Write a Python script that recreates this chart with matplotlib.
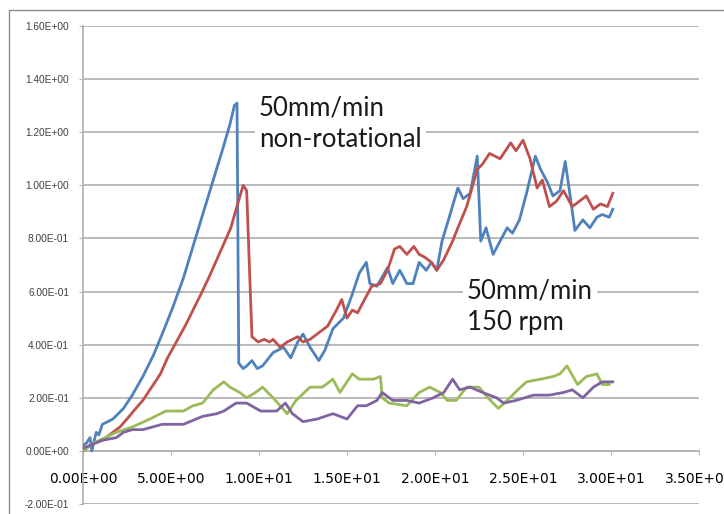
import matplotlib.pyplot as plt
from matplotlib.patches import Rectangle

# series (x, load)
blue_x = [0.0, 0.2, 0.4, 0.5, 0.75, 0.9, 1.1, 1.7, 2.3, 2.8, 3.4, 4.0, 4.5, 5.1, 5.7, 6.25, 6.8, 7.4, 8.0,
          8.35, 8.6, 8.75, 8.85, 9.1, 9.3, 9.6, 9.9, 10.2, 10.8, 11.4, 11.8, 12.2, 12.5, 12.9, 13.4, 13.75,
          14.2, 14.8, 15.3, 15.7, 16.1, 16.3, 16.7, 17.3, 17.6, 18.0, 18.4, 18.75, 19.1, 19.5, 19.8, 20.1,
          20.4, 20.9, 21.3, 21.6, 22.0, 22.4, 22.6, 22.9, 23.3, 23.7, 24.1, 24.4, 24.8, 25.2, 25.7, 26.0,
          26.4, 26.7, 27.1, 27.4, 27.7, 27.95, 28.4, 28.8, 29.2, 29.5, 29.9, 30.1]
blue_y = [0.02, 0.03, 0.05, 0.0, 0.07, 0.06, 0.10, 0.12, 0.16, 0.21, 0.28, 0.36, 0.44, 0.54, 0.65, 0.77, 0.89,
          1.02, 1.15, 1.23, 1.30, 1.31, 0.33, 0.31, 0.32, 0.34, 0.31, 0.32, 0.37, 0.39, 0.35, 0.41, 0.44, 0.39,
          0.34, 0.38, 0.46, 0.50, 0.59, 0.67, 0.71, 0.63, 0.62, 0.69, 0.63, 0.68, 0.63, 0.63, 0.71, 0.68, 0.71,
          0.68, 0.79, 0.90, 0.99, 0.95, 0.97, 1.11, 0.79, 0.84, 0.74, 0.79, 0.84, 0.82, 0.87, 0.97, 1.11, 1.06,
          1.01, 0.96, 0.98, 1.09, 0.95, 0.83, 0.87, 0.84, 0.88, 0.89, 0.88, 0.91]

red_x = [0.0, 0.6, 1.1, 1.7, 2.1, 2.5, 3.0, 3.4, 3.9, 4.4, 4.8, 5.3, 5.8, 6.25, 6.7, 7.2, 7.6, 8.0, 8.4, 8.7,
         9.1, 9.3, 9.5, 9.6, 9.95, 10.3, 10.6, 10.8, 11.2, 11.6, 12.2, 12.5, 12.9, 13.3, 13.9, 14.4, 14.7,
         15.0, 15.3, 15.6, 16.0, 16.4, 16.9, 17.3, 17.7, 18.0, 18.4, 18.8, 19.1, 19.4, 19.8, 20.1, 20.5, 21.0,
         21.3, 21.8, 22.4, 22.7, 23.1, 23.7, 24.3, 24.6, 25.0, 25.4, 25.8, 26.1, 26.5, 26.9, 27.3, 27.8, 28.6,
         29.0, 29.4, 29.8, 30.1]
red_y = [0.0, 0.03, 0.04, 0.07, 0.09, 0.12, 0.16, 0.19, 0.24, 0.29, 0.35, 0.41, 0.47, 0.53, 0.59, 0.66, 0.72,
         0.78, 0.84, 0.91, 1.00, 0.98, 0.61, 0.43, 0.41, 0.42, 0.41, 0.42, 0.39, 0.41, 0.43, 0.41, 0.42, 0.44,
         0.47, 0.53, 0.57, 0.50, 0.53, 0.52, 0.57, 0.62, 0.63, 0.68, 0.76, 0.77, 0.74, 0.77, 0.74, 0.73, 0.71,
         0.68, 0.72, 0.79, 0.84, 0.92, 1.06, 1.08, 1.12, 1.10, 1.16, 1.13, 1.17, 1.10, 0.99, 1.02, 0.92, 0.94,
         0.98, 0.92, 0.96, 0.91, 0.93, 0.92, 0.97]

green_x = [0.0, 0.6, 1.9, 2.8, 3.8, 4.7, 5.7, 6.25, 6.8, 7.4, 8.0, 8.35, 8.9, 9.3, 9.8, 10.2, 10.8, 11.6, 12.1,
           12.9, 13.6, 14.2, 14.6, 15.3, 15.7, 16.5, 16.9, 17.0, 17.4, 18.4, 19.1, 19.7, 20.3, 20.7, 21.2, 21.8,
           22.5, 23.0, 23.6, 24.1, 24.7, 25.2, 26.0, 26.7, 27.1, 27.5, 28.1, 28.6, 29.2, 29.5, 29.9]
green_y = [0.0, 0.03, 0.07, 0.09, 0.12, 0.15, 0.15, 0.17, 0.18, 0.23, 0.26, 0.24, 0.22, 0.20, 0.22, 0.24, 0.20,
           0.14, 0.19, 0.24, 0.24, 0.27, 0.22, 0.29, 0.27, 0.27, 0.28, 0.20, 0.18, 0.17, 0.22, 0.24, 0.22, 0.19,
           0.19, 0.24, 0.24, 0.20, 0.16, 0.19, 0.23, 0.26, 0.27, 0.28, 0.29, 0.32, 0.25, 0.28, 0.29, 0.25, 0.25]

purple_x = [0.0, 1.1, 1.9, 2.3, 2.8, 3.4, 4.5, 5.7, 6.8, 7.6, 8.0, 8.7, 9.3, 10.1, 11.0, 11.5, 11.9, 12.5,
            13.3, 14.2, 15.0, 15.6, 16.1, 16.7, 17.0, 17.6, 18.4, 19.1, 19.9, 20.5, 21.0, 21.4, 22.0, 22.7,
            23.5, 23.9, 24.6, 25.6, 26.5, 27.3, 27.8, 28.4, 29.0, 29.5, 30.1]
purple_y = [0.01, 0.04, 0.05, 0.07, 0.08, 0.08, 0.10, 0.10, 0.13, 0.14, 0.15, 0.18, 0.18, 0.15, 0.15, 0.18,
            0.14, 0.11, 0.12, 0.14, 0.12, 0.17, 0.17, 0.19, 0.22, 0.19, 0.19, 0.18, 0.20, 0.22, 0.27, 0.23,
            0.24, 0.22, 0.20, 0.18, 0.19, 0.21, 0.21, 0.22, 0.23, 0.20, 0.24, 0.26, 0.26]

x_ticks = [0, 5, 10, 15, 20, 25, 30, 35]
y_ticks = [-0.2, 0.0, 0.2, 0.4, 0.6, 0.8, 1.0, 1.2, 1.4, 1.6]

tick_font = {"family": ["Liberation Sans Narrow", "Liberation Sans", "DejaVu Sans"], "size": 7.3}
note_font = ["Lato", "DejaVu Sans"]
grid_col = "#b4b4b4"

fig = plt.figure(figsize=(7.24, 5.14), dpi=100)
ax = fig.add_axes([83 / 724, 1 - 504 / 514, 616 / 724, 478 / 514])

ax.plot(blue_x, blue_y, color="#4F81BD", lw=2.0, zorder=3)
ax.plot(red_x, red_y, color="#C0504D", lw=2.0, zorder=3)
ax.plot(green_x, green_y, color="#9BBB59", lw=2.0, zorder=3)
ax.plot(purple_x, purple_y, color="#8064A2", lw=2.0, zorder=3)

ax.set_xlim(0, 35)
ax.set_ylim(-0.2, 1.6)
ax.set_xticks(x_ticks)
ax.set_yticks(y_ticks)
ax.set_xticklabels(["%.2E" % v for v in x_ticks], fontdict=tick_font, color="#404040")
ax.set_yticklabels(["%.2E" % v for v in y_ticks], fontdict=tick_font, color="#404040")
ax.yaxis.grid(True, color=grid_col, lw=1.3)
ax.set_axisbelow(True)

for s in ["top", "right"]:
    ax.spines[s].set_visible(False)
ax.spines["bottom"].set_position(("data", 0))
ax.spines["bottom"].set_color(grid_col)
ax.spines["left"].set_color(grid_col)
ax.spines["bottom"].set_linewidth(1.3)
ax.spines["left"].set_linewidth(1.3)
ax.tick_params(axis="x", direction="out", length=3, pad=12, color=grid_col)
ax.tick_params(axis="y", direction="out", length=3, pad=7, color=grid_col)

box = dict(facecolor="white", edgecolor="none", pad=3)
ax.text(10.0, 1.34, "50mm/min\nnon-rotational", fontsize=18.5, family=note_font, va="top", ha="left",
        linespacing=1.35, color="#1a1a1a", bbox=box, zorder=2)
ax.text(21.8, 0.65, "50mm/min\n150 rpm", fontsize=18.5, family=note_font, va="top", ha="left",
        linespacing=1.35, color="#1a1a1a", bbox=box, zorder=2)

# outer frame of the pasted chart
fig.add_artist(Rectangle((9 / 724, -0.1), 1.2, 1.1 - 10 / 514, transform=fig.transFigure,
                         fill=False, edgecolor="#8c8c8c", lw=1))

fig.savefig("out.png", dpi=100)
